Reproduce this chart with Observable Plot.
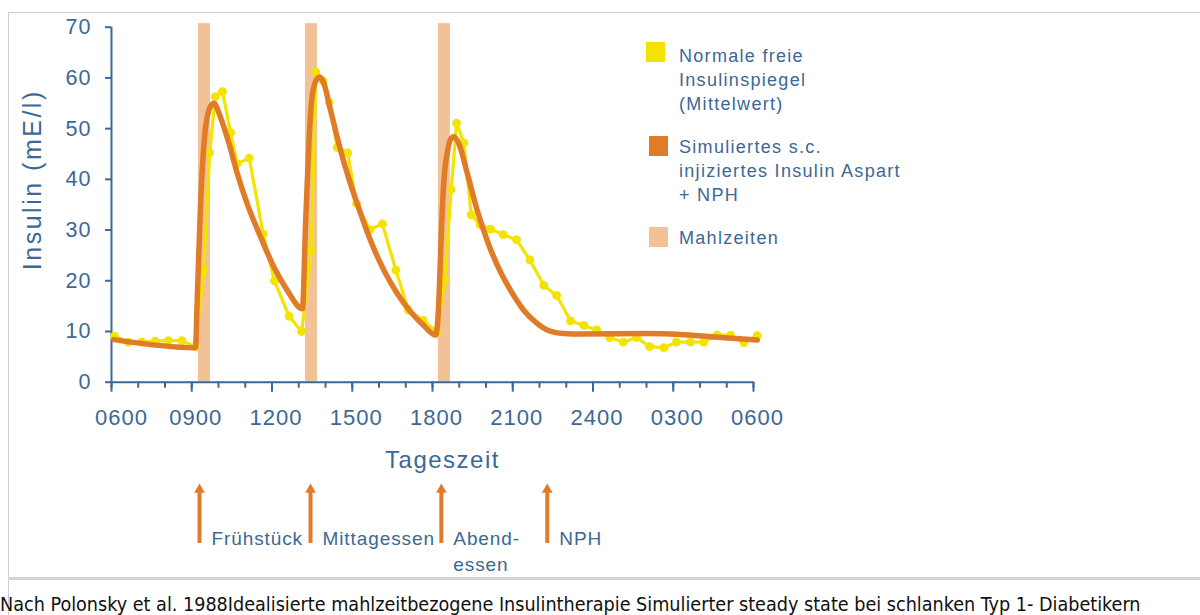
<!DOCTYPE html>
<html><head><meta charset="utf-8">
<script src="https://cdn.jsdelivr.net/npm/d3@7"></script>
<script src="https://cdn.jsdelivr.net/npm/@observablehq/plot@0.6"></script>
<style>
html,body{margin:0;padding:0;background:#fff;}
#wrap{position:relative;width:1200px;height:615px;overflow:hidden;font-family:"Liberation Sans",Arial,sans-serif;}
#chart{position:absolute;left:0;top:0;}
.frame-top{position:absolute;left:8px;top:12px;width:1192px;height:0;border-top:1.5px solid #cfcfcf;}
.frame-left{position:absolute;left:8px;top:12px;width:0;height:603px;border-left:1.5px solid #cfcfcf;}
.band{position:absolute;left:8px;top:577px;width:1192px;height:3px;background:#d4d4d4;}
.caption{position:absolute;left:0;top:595px;font-size:19.6px;line-height:19px;font-family:"Liberation Sans Narrow","DejaVu Sans Condensed","Noto Sans",sans-serif;color:#111;white-space:nowrap;}
.sw{position:absolute;width:19px;height:20px;}
.tx{position:absolute;left:679px;font-size:18px;line-height:24px;letter-spacing:1.3px;color:#3b6896;white-space:nowrap;}
</style></head>
<body>
<div id="wrap">
  <div class="frame-top"></div>
  <div class="frame-left"></div>
  <div id="chart"></div>
  <div id="legend"></div>
  <div class="band"></div>
  <div class="caption" id="caption"></div>
</div>
<script>
// ---- Data (hours after 06:00) ----
const normalZeit = [0.11,0.64,1.13,1.63,2.13,2.63,3.13,3.45,3.67,3.88,4.15,4.45,4.70,5.15,5.67,6.09,6.64,7.11,7.47,7.64,7.91,8.14,8.44,8.83,9.16,9.66,10.13,10.63,11.10,11.65,12.18,12.45,12.70,12.90,13.17,13.45,13.79,14.17,14.64,15.14,15.64,16.16,16.64,17.16,17.66,18.14,18.63,19.13,19.63,20.12,20.65,21.12,21.64,22.14,22.64,23.14,23.64,24.14];
const normalWert = [9.1,7.9,7.9,8.1,8.2,8.2,7.0,22.1,45.2,56.3,57.3,49.2,43.1,44.2,29.2,20.0,13.0,10.0,26.0,61.2,59.4,55.2,46.3,45.2,35.2,30.1,31.2,22.1,14.2,12.2,9.9,20.1,38.0,51.1,47.2,33.0,31.0,30.2,29.1,28.1,24.1,19.1,17.1,12.1,11.2,10.3,8.8,7.9,8.8,7.0,6.8,7.9,7.9,7.9,9.3,9.3,7.8,9.2];
const simZeit = [0.09,3.14,3.20,3.33,3.48,3.64,3.82,4.07,4.39,4.70,5.07,5.57,6.07,6.57,7.14,7.25,7.38,7.50,7.66,7.79,7.94,8.19,8.56,8.93,9.31,9.68,10.18,10.68,11.18,11.67,12.12,12.24,12.33,12.42,12.57,12.70,12.80,12.98,13.30,13.67,14.04,14.42,14.92,15.41,15.91,16.29,16.91,17.53,20.03,21.27,22.52,24.14];
const simWert = [8.4,6.8,15.5,35.2,48.4,53.6,55.0,52.3,47.1,41.2,35.2,28.7,22.7,18.1,14.5,30.6,47.1,56.3,59.6,60.2,58.9,53.6,45.8,39.2,33.3,28.0,22.1,17.5,13.9,11.2,9.3,16.2,29.3,39.2,45.8,48.1,48.4,47.1,41.2,33.9,28.0,23.1,18.1,14.2,11.6,10.3,9.6,9.5,9.6,9.4,8.9,8.3];
const mahlzeitStart = [3.25, 7.25, 12.22];
const mahlzeitEnde  = [3.70, 7.70, 12.67];
const yTicks = [0,10,20,30,40,50,60,70];
const xTicks = [0,3,6,9,12,15,18,21,24];
const xTickLabels = ["0600","0900","1200","1500","1800","2100","2400","0300","0600"];
const ereignisZeit = [3.29, 7.44, 12.33, 16.29];
const ereignisText = ["Frühstück","Mittagessen","Abend-\nessen","NPH"];
const legendTexte = [["Normale freie","Insulinspiegel","(Mittelwert)"],["Simuliertes s.c.","injiziertes Insulin Aspart","+ NPH"],["Mahlzeiten"]];
const yLabel = "Insulin (mE/l)";
const xLabel = "Tageszeit";
const captionText = "Nach Polonsky et al. 1988Idealisierte mahlzeitbezogene Insulintherapie Simulierter steady state bei schlanken Typ 1- Diabetikern";

// ---- Styles ----
const blue = "#3b6896", yellow = "#f2e400", orange = "#e07b28", peach = "#f2c196";

const normal = normalZeit.map((t,i) => ({t, v: normalWert[i]}));
const sim = simZeit.map((t,i) => ({t, v: simWert[i]}));
const mahlzeiten = mahlzeitStart.map((s,i) => ({start: s, end: mahlzeitEnde[i]}));
const ereignisse = ereignisZeit.map((t,i) => ({t, label: ereignisText[i]}));

const chart = Plot.plot({
  width: 1200, height: 578,
  marginLeft: 111, marginRight: 447, marginTop: 26.7, marginBottom: 196.3,
  x: {domain: [0, 24], axis: null},
  y: {domain: [0, 70], axis: null},
  style: {fontFamily: "'Liberation Sans', Arial, sans-serif", background: "transparent", overflow: "visible", color: blue},
  marks: [
    Plot.rect(mahlzeiten, {x1: "start", x2: "end", y1: 0, y2: 70.7, fill: peach}),
    Plot.ruleX([0], {y1: 0, y2: 70, stroke: blue, strokeWidth: 2}),
    Plot.ruleY([0], {x1: 0, x2: 24, stroke: blue, strokeWidth: 2}),
    Plot.axisY({ticks: yTicks, tickSize: 6, tickPadding: 14, fontSize: 21.5, color: blue, strokeWidth: 2, label: null}),
    Plot.axisX({ticks: d3.range(25), tickSize: 6, tickFormat: () => "", color: blue, strokeWidth: 2, label: null}),
    Plot.axisX({ticks: xTicks, tickSize: 10, tickPadding: 17, fontSize: 22, color: blue, strokeWidth: 2, label: null,
      tickFormat: d => xTickLabels[xTicks.indexOf(d)]}),
    Plot.line(normal, {x: "t", y: "v", stroke: yellow, strokeWidth: 3.2}),
    Plot.dot(normal, {x: "t", y: "v", r: 4.4, fill: yellow}),
    Plot.line(sim, {x: "t", y: "v", stroke: orange, strokeWidth: 5.5, curve: "monotone-x"}),
    Plot.text([yLabel], {frameAnchor: "left", dx: -79, dy: -25, rotate: -90, textAnchor: "middle", lineAnchor: "middle", fontSize: 25, fill: blue}),
    Plot.text([xLabel], {frameAnchor: "bottom", dx: 10, dy: 69, textAnchor: "middle", lineAnchor: "top", fontSize: 24, fill: blue}),
    Plot.ruleX(ereignisse, {x: "t", y1: -31.8, y2: -21, stroke: orange, strokeWidth: 4}),
    Plot.dot(ereignisse, {x: "t", y: -21.2, symbol: "triangle", r: 4, fill: orange}),
    Plot.text(ereignisse, {x: "t", y: -28.65, text: "label", dx: 12, textAnchor: "start", lineAnchor: "top", fontSize: 19, lineHeight: 1.33, fill: blue})
  ]
});
document.getElementById("chart").appendChild(chart);

// letter spacing for SVG texts
const flatEvents = ereignisText.map(s => s.replace("\n", ""));
const yTickStr = yTicks.map(String);
let firstX = true;
d3.select(chart).selectAll("text").each(function() {
  const s = this.textContent;
  const el = d3.select(this);
  if (s === yLabel) el.style("letter-spacing", "2.5px");
  else if (s === xLabel) el.style("letter-spacing", "1.5px");
  else if (flatEvents.includes(s)) el.style("letter-spacing", "0.9px");
  else if (xTickLabels.includes(s)) {
    el.style("letter-spacing", "1px");
    const shift = firstX ? 10 : 4; firstX = false;
    el.attr("dx", shift);
  }
  else if (yTickStr.includes(s)) el.style("letter-spacing", "1px");
});

// ---- Legend ----
const legend = document.getElementById("legend");
const swatches = [{c: yellow, l: 646, t: 42}, {c: orange, l: 649, t: 136}, {c: peach, l: 649, t: 227}];
const textTops = [43.5, 135, 226];
swatches.forEach((s, i) => {
  const sw = document.createElement("div");
  sw.className = "sw"; sw.style.left = s.l + "px"; sw.style.top = s.t + "px"; sw.style.background = s.c;
  legend.appendChild(sw);
  const tx = document.createElement("div");
  tx.className = "tx"; tx.style.top = textTops[i] + "px";
  tx.innerHTML = legendTexte[i].join("<br>");
  legend.appendChild(tx);
});
document.getElementById("caption").textContent = captionText;
</script>
</body></html>
